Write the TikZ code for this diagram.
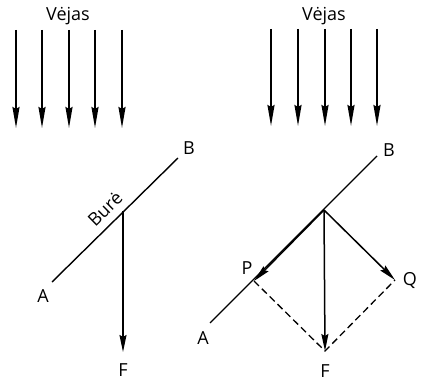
\documentclass[tikz,border=0pt]{standalone}
\usepackage{fontspec}
\setmainfont{Open Sans}
\usetikzlibrary{arrows.meta}
\begin{document}
\begin{tikzpicture}[x=1pt,y=-1pt,
  lbl/.style={font=\fontsize{18}{18}\selectfont, inner sep=0pt},
  wind/.style={line width=1.9pt, -{Stealth[length=21pt,width=7pt,inset=2pt]}},
  sail/.style={line width=1.4pt},
  force/.style={line width=1.5pt, -{Stealth[length=17pt,width=7pt,inset=2pt]}},
  dashline/.style={line width=1.3pt, dash pattern=on 7pt off 4pt}]
\useasboundingbox (0,0) rectangle (425,382);
% left panel
\node[lbl] (v1) at (68,16) {Vėjas};
\foreach \x [count=\i] in {16,42,69,95,122}{
  \coordinate (lt\i) at (\x,30);
  \coordinate (lb\i) at (\x,128);
  \draw[wind] (lt\i) -- (lb\i);
}
\coordinate (la) at (52,282);
\coordinate (lb) at (178,158);
\coordinate (lj) at (123,211);
\coordinate (lf) at (123,352);
\draw[sail] (la) -- (lb);
\draw[force] (lj) -- (lf);
\node[lbl] (nA1) at (43,296) {A};
\node[lbl] (nB1) at (189,148) {B};
\node[lbl] (nF1) at (123,370) {F};
\node[lbl, rotate=44.5] (bure) at (105,209) {Burė};
% right panel
\node[lbl] (v2) at (324,16) {Vėjas};
\foreach \x [count=\i] in {271,298,325,351,377}{
  \coordinate (rt\i) at (\x,29);
  \coordinate (rb\i) at (\x,126);
  \draw[wind] (rt\i) -- (rb\i);
}
\coordinate (ra) at (210,323);
\coordinate (rb) at (377,156);
\coordinate (rj) at (324,210);
\coordinate (rp) at (254,281);
\coordinate (rq) at (395,280);
\coordinate (rf) at (325,351);
\draw[sail] (ra) -- (rb);
\draw[dashline] (rp) -- (rf) -- (rq);
\draw[force] (rj) -- (rf);
\draw[force] (rj) -- (rp);
\draw[force] (rj) -- (rq);
\node[lbl] (nA2) at (203,338) {A};
\node[lbl] (nB2) at (389,150) {B};
\node[lbl] (nP) at (247,268) {P};
\node[lbl] (nQ) at (410,281) {Q};
\node[lbl] (nF2) at (325,371) {F};
\end{tikzpicture}
\end{document}
